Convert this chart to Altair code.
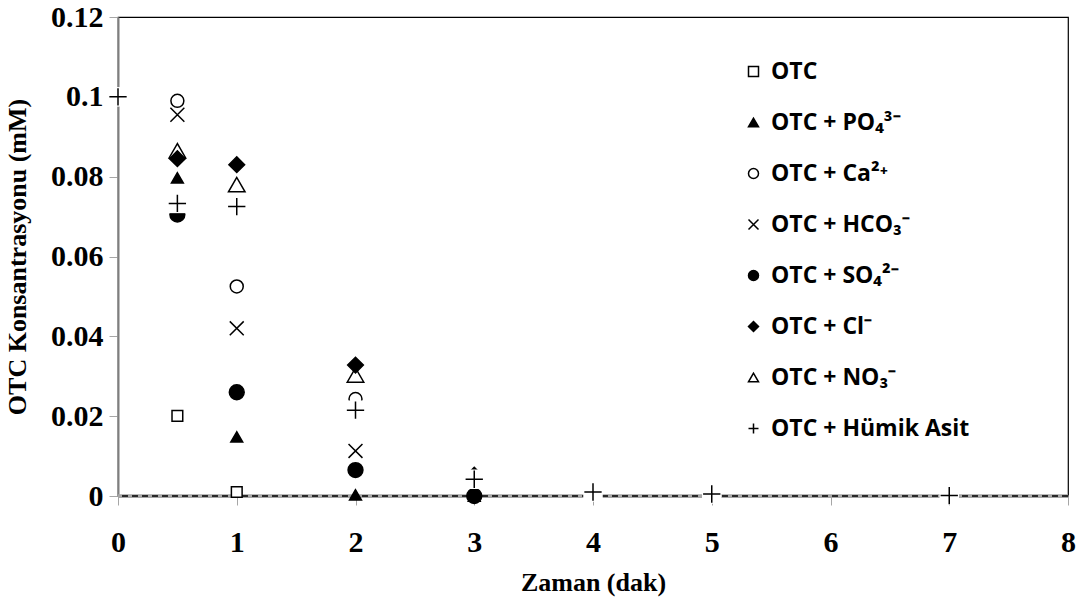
import altair as alt
import pandas as pd

series_names = ["OTC", "OTC + PO₄³⁻", "OTC + Ca²⁺", "OTC + HCO₃⁻",
                "OTC + SO₄²⁻", "OTC + Cl⁻", "OTC + NO₃⁻", "OTC + Hümik Asit"]

t_otc = [0.5, 1]
v_otc = [0.0201, 0.0010]
t_po4 = [0.5, 1, 2, 3]
v_po4 = [0.0797, 0.0148, 0.0003, 0.0]
t_ca = [0.5, 1, 2]
v_ca = [0.0990, 0.0525, 0.0243]
t_hco3 = [0.5, 1, 2]
v_hco3 = [0.0955, 0.0420, 0.0113]
t_so4 = [0.5, 1, 2, 3]
v_so4 = [0.0705, 0.0260, 0.0065, 0.0]
t_cl = [0.5, 1, 2, 3]
v_cl = [0.0845, 0.0830, 0.0328, 0.0052]
t_no3 = [0.5, 1, 2]
v_no3 = [0.0865, 0.0780, 0.0303]
t_hum = [0, 0.5, 1, 2, 3, 4, 5, 7]
v_hum = [0.1000, 0.0733, 0.0725, 0.0215, 0.0042, 0.0010, 0.0005, 0.0001]

y_ticks = [0, 0.02, 0.04, 0.06, 0.08, 0.10, 0.12]
x_ticks = [0, 1, 2, 3, 4, 5, 6, 7, 8]

shapes = ["square", "triangle-up", "circle", "M-1,-1L1,1M-1,1L1,-1",
          "circle", "diamond", "triangle-up", "M-1,0L1,0M0,-1L0,1"]
fills = ["white", "black", "white", "white",
         "black", "black", "white", "white"]
sizes = [70, 110, 115, 100, 115, 165, 115, 300]
draw_rank = [0, 1, 2, 3, 4, 6, 5, 7]

all_t = [t_otc, t_po4, t_ca, t_hco3, t_so4, t_cl, t_no3, t_hum]
all_v = [v_otc, v_po4, v_ca, v_hco3, v_so4, v_cl, v_no3, v_hum]
rows = []
for name, ts, vs, rk in zip(series_names, all_t, all_v, draw_rank):
    for t, v in zip(ts, vs):
        rows.append({"time": t, "conc": v, "series": name, "rank": rk})
df = pd.DataFrame(rows)

serif = "Liberation Serif"
sans = "Open Sans"

x_enc = alt.X("time:Q", scale=alt.Scale(domain=[0, 8], nice=False),
              axis=alt.Axis(title="Zaman (dak)", values=x_ticks, format="d",
                            grid=False, tickSize=9, tickColor="#a6a6a6",
                            domainColor="#a6a6a6", domainWidth=3, labelFlush=False,
                            labelPadding=22, titlePadding=12,
                            labelFont=serif, labelFontSize=30, labelFontWeight="bold",
                            titleFont=serif, titleFontSize=26, titleFontWeight="bold",
                            labelColor="black", titleColor="black"))
y_enc = alt.Y("conc:Q", scale=alt.Scale(domain=[0, 0.12], nice=False),
              axis=alt.Axis(title="OTC Konsantrasyonu (mM)", values=y_ticks, format="~g",
                            grid=False, tickSize=9, tickColor="#a6a6a6",
                            domainColor="#7f7f7f", domainWidth=2, labelFlush=False,
                            labelPadding=6, titlePadding=20,
                            labelFont=serif, labelFontSize=30, labelFontWeight="bold",
                            titleFont=serif, titleFontSize=26, titleFontWeight="bold",
                            labelColor="black", titleColor="black"))

leg = alt.Legend(title=None, orient="none", legendX=624, legendY=43,
                 rowPadding=27, labelFont=sans, labelFontSize=23,
                 labelFontWeight="bold", labelColor="black",
                 symbolSize=100, symbolStrokeWidth=1.5,
                 labelOffset=6, labelLimit=400)
shape_enc = alt.Shape("series:N", scale=alt.Scale(domain=series_names, range=shapes),
                      legend=leg)
fill_enc = alt.Fill("series:N", scale=alt.Scale(domain=series_names, range=fills),
                    legend=leg)
stroke_enc = alt.Stroke("series:N", scale=alt.Scale(domain=series_names, range=["black"] * 8),
                        legend=leg)
# size scale uses a reversed domain so that its (hidden) legend is not merged
size_enc = alt.Size("series:N",
                    scale=alt.Scale(domain=series_names[::-1], range=sizes[::-1]),
                    legend=None)

base = alt.Chart(df)

gray_line = alt.Chart(pd.DataFrame({"conc": [0.0]})).mark_rule(
    color="#a6a6a6", strokeWidth=3.5).encode(y="conc:Q")
zero_line = alt.Chart(pd.DataFrame({"conc": [0.0]})).mark_rule(
    color="black", strokeWidth=1.3, strokeDash=[6, 4]).encode(y="conc:Q")

others = base.transform_filter(alt.datum.series != series_names[-1]).mark_point(
    strokeWidth=1.5, opacity=1, filled=False
).encode(x=x_enc, y=y_enc, shape=shape_enc, fill=fill_enc, stroke=stroke_enc,
         size=size_enc, order=alt.Order("rank:Q"))

hum_box = base.transform_filter(alt.datum.series == series_names[-1]).mark_point(
    shape="square", filled=True, color="white", opacity=1, size=380
).encode(x="time:Q", y="conc:Q")

hum = base.transform_filter(alt.datum.series == series_names[-1]).mark_point(
    strokeWidth=1.5, opacity=1, filled=False
).encode(x="time:Q", y="conc:Q", shape=shape_enc, fill=fill_enc, stroke=stroke_enc,
         size=size_enc)

chart = alt.layer(gray_line, zero_line, others, hum_box, hum).properties(
    width=950, height=479,
    autosize=alt.AutoSizeParams(type="none"),
    padding={"left": 118, "top": 17, "right": 13, "bottom": 112},
    background="white"
).configure_view(stroke="black", strokeWidth=1.2)

chart.save("out.html", embed_options={"renderer": "svg", "actions": False})
